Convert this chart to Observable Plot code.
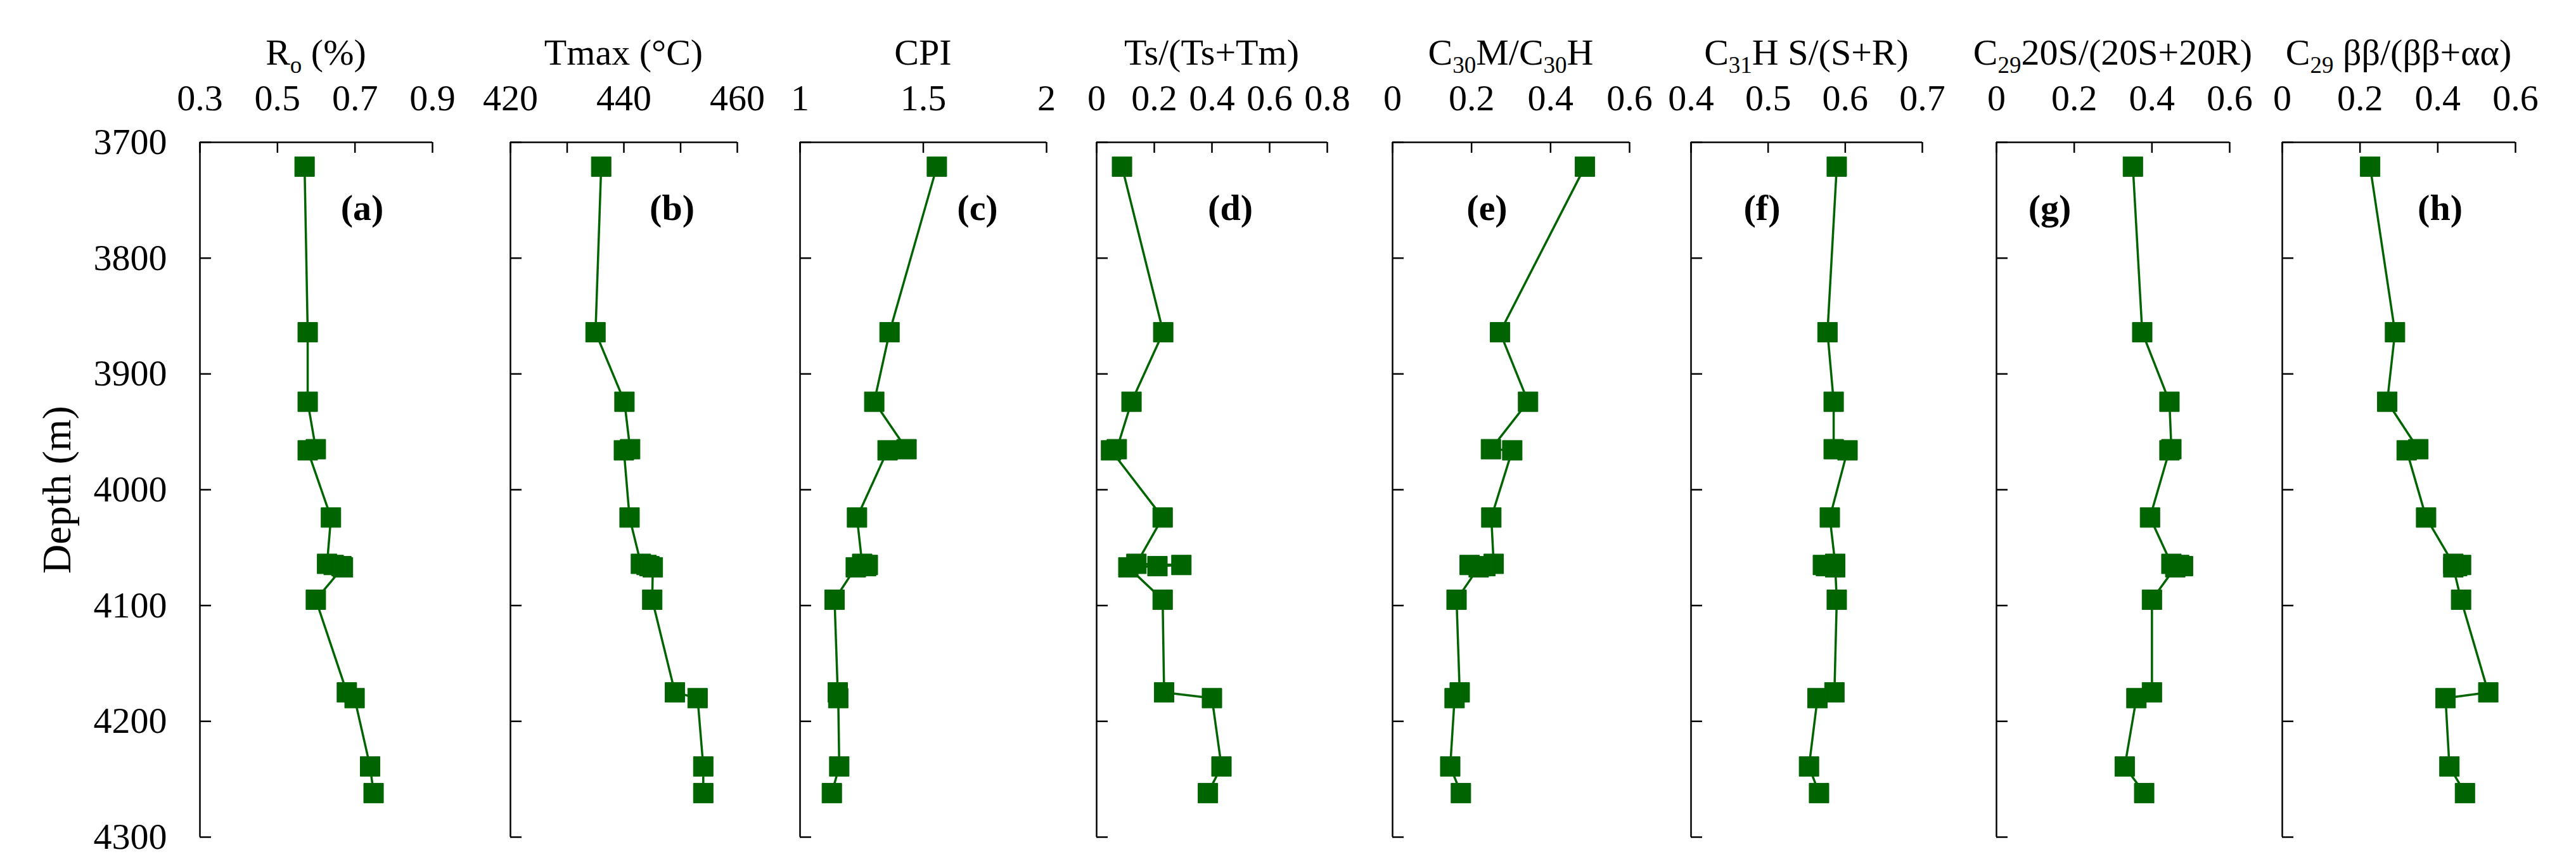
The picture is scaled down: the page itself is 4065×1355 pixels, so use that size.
<!DOCTYPE html>
<html>
<head>
<meta charset="utf-8">
<script src="https://cdn.jsdelivr.net/npm/d3@7"></script>
<script src="https://cdn.jsdelivr.net/npm/@observablehq/plot@0.6"></script>
<style>
html, body { margin: 0; padding: 0; background: #fff; }
#chart { position: relative; width: 4065px; height: 1355px; background: #fff; font-family: "Liberation Serif", "Times New Roman", serif; }
#chart svg { position: absolute; top: 0; overflow: visible; }
</style>
</head>
<body>
<div id="chart"></div>
<script>
// ---------- data ----------
const depth = [3721, 3864, 3924, 3965, 3966, 4024, 4064, 4065, 4066, 4067, 4095, 4175, 4180, 4239, 4262];
const depthTicks = [3700, 3800, 3900, 4000, 4100, 4200, 4300];

const ro      = [0.570, 0.578, 0.578, 0.599, 0.578, 0.638, 0.628, 0.645, 0.665, 0.669, 0.599, 0.679, 0.699, 0.739, 0.748];
const tmax    = [436.0, 435.0, 440.1, 441.1, 440.0, 441.0, 443.0, 444.0, 444.5, 445.1, 445.0, 449.0, 453.0, 454.0, 454.0];
const cpi     = [1.555, 1.363, 1.301, 1.432, 1.355, 1.231, 1.252, 1.275, 1.268, 1.226, 1.140, 1.153, 1.155, 1.159, 1.129];
const tsTm    = [0.088, 0.231, 0.121, 0.070, 0.050, 0.229, 0.138, 0.294, 0.211, 0.110, 0.229, 0.234, 0.400, 0.433, 0.386];
const c30m    = [0.487, 0.272, 0.343, 0.249, 0.303, 0.250, 0.256, 0.195, 0.235, 0.218, 0.162, 0.170, 0.157, 0.146, 0.173];
const c31h    = [0.589, 0.577, 0.585, 0.585, 0.603, 0.580, 0.587, 0.571, 0.575, 0.587, 0.589, 0.586, 0.564, 0.553, 0.566];
const c29s    = [0.351, 0.375, 0.445, 0.450, 0.445, 0.395, 0.450, 0.470, 0.480, 0.460, 0.400, 0.400, 0.360, 0.330, 0.380];
const c29bb   = [0.226, 0.290, 0.270, 0.350, 0.320, 0.370, 0.440, 0.460, 0.450, 0.440, 0.460, 0.530, 0.420, 0.430, 0.470];

const roTicks = [0.3, 0.5, 0.7, 0.9],          roLabels = [0.3, 0.5, 0.7, 0.9];
const tmaxTicks = [420, 430, 440, 450, 460],   tmaxLabels = [420, 440, 460];
const cpiTicks = [1, 1.5, 2],                  cpiLabels = [1, 1.5, 2];
const tsTicks = [0, 0.2, 0.4, 0.6, 0.8],       tsLabels = [0, 0.2, 0.4, 0.6, 0.8];
const c30Ticks = [0, 0.2, 0.4, 0.6],           c30Labels = [0, 0.2, 0.4, 0.6];
const c31Ticks = [0.4, 0.5, 0.6, 0.7],         c31Labels = [0.4, 0.5, 0.6, 0.7];
const c29sTicks = [0, 0.2, 0.4, 0.6],          c29sLabels = [0, 0.2, 0.4, 0.6];
const c29bbTicks = [0, 0.2, 0.4, 0.6],         c29bbLabels = [0, 0.2, 0.4, 0.6];

const panelKeys = ["(a)", "(b)", "(c)", "(d)", "(e)", "(f)", "(g)", "(h)"];
const titles = [
  [["R"], ["o", "sub"], [" (%)"]],
  [["Tmax (°C)"]],
  [["CPI"]],
  [["Ts/(Ts+Tm)"]],
  [["C"], ["30", "sub"], ["M/C"], ["30", "sub"], ["H"]],
  [["C"], ["31", "sub"], ["H S/(S+R)"]],
  [["C"], ["29", "sub"], ["20S/(20S+20R)"]],
  [["C"], ["29", "sub"], [" ββ/(ββ+αα)"]]
];

const series = [ro, tmax, cpi, tsTm, c30m, c31h, c29s, c29bb];
const domains = [[0.3, 0.9], [420, 460], [1, 2], [0, 0.8], [0, 0.6], [0.4, 0.7], [0, 0.6], [0, 0.6]];
const ticksList = [roTicks, tmaxTicks, cpiTicks, tsTicks, c30Ticks, c31Ticks, c29sTicks, c29bbTicks];
const labelsList = [roLabels, tmaxLabels, cpiLabels, tsLabels, c30Labels, c31Labels, c29sLabels, c29bbLabels];

// ---------- layout (pixels) ----------
const panelLeft  = [315, 805, 1262, 1730, 2197, 2668, 3150, 3601];
const panelWidth = [367, 358, 389, 364, 374, 365, 368, 368];
const keyOffset  = [256, 255, 280, 211, 149, 112, 84, 249];
const H = 1355, frameTop = 224, frameBottom = 1320;
const green = "#006400";
const FONT = "Liberation Serif, Times New Roman, serif";

const chart = document.getElementById("chart");

series.forEach((vals, i) => {
  const data = depth.map((d, j) => ({depth: d, value: vals[j]}));
  const w = panelWidth[i];
  const ml = i === 0 ? 315 : 40;
  const mr = 60;
  const marks = [
    Plot.axisX(labelsList[i], {anchor: "top", tickSize: 0, tickPadding: 51, fontSize: 58, fontFamily: FONT, fontVariant: "normal", label: null, tickFormat: d => String(d)}),
    Plot.tickX(ticksList[i], {x: d => d, insetBottom: (frameBottom - frameTop) - 17, stroke: "black", strokeWidth: 2.5}),
    Plot.tickY(depthTicks, {y: d => d, insetRight: w - 18, stroke: "black", strokeWidth: 2.5}),
    Plot.ruleX([domains[i][0]], {stroke: "black", strokeWidth: 2.5}),
    Plot.ruleY([3700], {stroke: "black", strokeWidth: 2.5}),
    Plot.line(data, {x: "value", y: "depth", stroke: green, strokeWidth: 3.5}),
    Plot.dot(data, {x: "value", y: "depth", symbol: "square", r: 17.5, fill: green, stroke: green, strokeWidth: 1, strokeLinejoin: "round"}),
    Plot.text([panelKeys[i]], {frameAnchor: "top-left", dx: keyOffset[i], dy: 104, text: d => d, fontSize: 58, fontFamily: FONT, fontWeight: "bold", textAnchor: "middle", lineAnchor: "middle", fill: "black"})
  ];
  if (i === 0) {
    marks.push(Plot.axisY(depthTicks, {anchor: "left", tickSize: 0, tickPadding: 52, fontSize: 58, fontFamily: FONT, fontVariant: "normal", label: null, tickFormat: d => String(d)}));
    marks.push(Plot.text(["Depth (m)"], {frameAnchor: "left", dx: -225, text: d => d, rotate: -90, fontSize: 64, fontFamily: FONT, textAnchor: "middle", lineAnchor: "middle", fill: "black"}));
  }
  const plot = Plot.plot({
    width: ml + w + mr,
    height: H,
    marginLeft: ml,
    marginRight: mr,
    marginTop: frameTop,
    marginBottom: H - frameBottom,
    style: {fontFamily: FONT, fontSize: "58px", color: "black", background: "transparent", overflow: "visible"},
    x: {domain: domains[i]},
    y: {domain: [3700, 4300], reverse: true, axis: i === 0 ? undefined : null},
    marks
  });
  plot.style.left = (panelLeft[i] - ml) + "px";
  chart.appendChild(plot);

  // title with subscripts
  const t = d3.select(plot).append("text")
    .attr("x", ml + w / 2)
    .attr("y", 102)
    .attr("text-anchor", "middle")
    .attr("font-family", FONT)
    .attr("font-size", 58)
    .attr("fill", "black");
  let shifted = false;
  titles[i].forEach(([str, kind]) => {
    const sp = t.append("tspan").text(str);
    if (kind === "sub") {
      sp.attr("font-size", 37).attr("dy", shifted ? 0 : 13);
      shifted = true;
    } else {
      if (shifted) sp.attr("dy", -13);
      shifted = false;
    }
  });
});
</script>
</body>
</html>
